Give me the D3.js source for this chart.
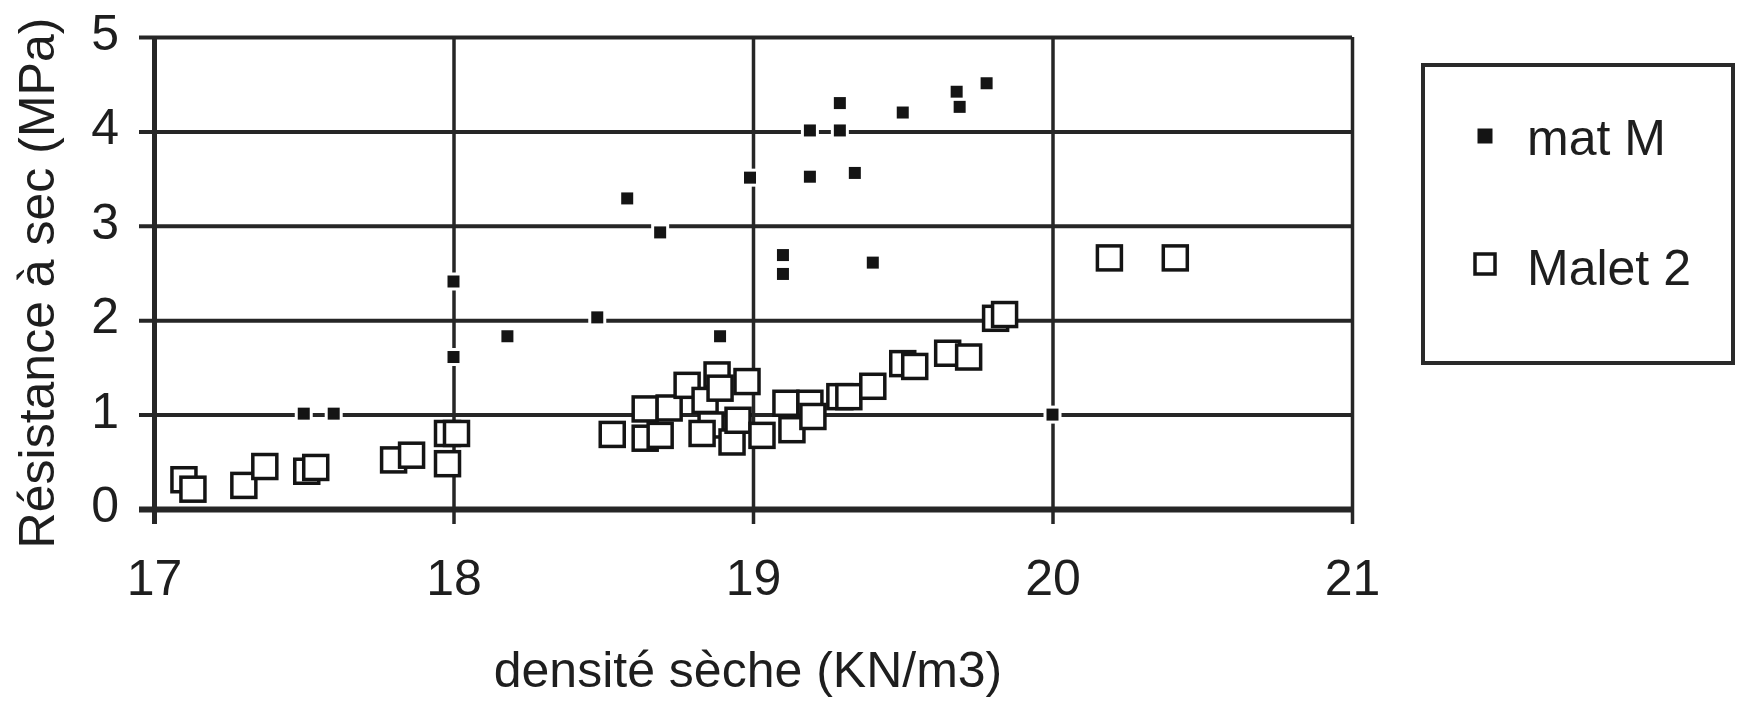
<!DOCTYPE html>
<html>
<head>
<meta charset="utf-8">
<script src="https://cdn.jsdelivr.net/npm/d3@7"></script>
<style>
body{margin:0;background:#fff;}
text{font-family:"Liberation Sans",Arial,sans-serif;fill:#1e1e1e;}
</style>
</head>
<body>
<div id="chart"></div>
<script>

//data
const matM_x = [17.50,17.60,18.00,18.00,18.18,18.48,18.58,18.69,18.89,18.99,19.10,19.10,19.19,19.19,19.29,19.29,19.34,19.40,19.50,19.68,19.69,19.78,20.00];
const matM_y = [1.01,1.01,2.41,1.61,1.83,2.03,3.29,2.93,1.83,3.51,2.69,2.49,4.01,3.52,4.30,4.01,3.56,2.61,4.20,4.42,4.26,4.51,1.00];

const malet_x = [17.10,17.13,17.30,17.37,17.51,17.54,17.80,17.86,17.98,18.01,17.98,
	18.53,18.64,18.64,18.69,18.72,18.78,18.84,18.88,18.89,18.86,18.83,18.93,18.95,18.98,
	19.03,19.11,19.13,19.19,19.20,19.29,19.32,19.40,19.50,19.54,19.65,19.72,19.81,19.84,20.19,20.41];
const malet_y = [0.31,0.21,0.25,0.45,0.40,0.44,0.52,0.57,0.80,0.80,0.48,
	0.79,1.06,0.75,0.78,1.07,1.31,1.15,1.42,1.28,0.89,0.80,0.71,0.94,1.35,
	0.78,1.12,0.84,1.12,0.98,1.19,1.19,1.30,1.54,1.51,1.65,1.61,2.02,2.06,2.66,2.66];

const xTicks = [17,18,19,20,21];
const yTicks = [0,1,2,3,4,5];
const seriesNames = ["mat M","Malet 2"];
const xTitle = "densité sèche (KN/m3)";
const yTitle = "Résistance à sec (MPa)";


function graph(){

	//sizing
	let width = 1742, height = 704;
	let margin = {top:37, right:390, bottom:195, left:154};
	let plotW = width - margin.left - margin.right;
	let plotH = height - margin.top - margin.bottom;
	let tick = 15;

	let svg = d3.select("#chart")
		.append("svg")
		.attr("width", width)
		.attr("height", height);

	svg.append("rect")
		.attr("width", width).attr("height", height)
		.attr("fill", "#fff");

	const xScale = d3.scaleLinear()
		.domain([17,21])
		.range([margin.left, margin.left + plotW]);

	const yScale = d3.scaleLinear()
		.domain([0,5])
		.range([margin.top + plotH, margin.top]);

	//horizontal grid + y labels
	const yAxis = d3.axisLeft(yScale)
		.tickValues(yTicks)
		.tickSize(-(plotW + tick))
		.tickPadding(20)
		.tickFormat(d3.format("d"));

	let gy = svg.append("g")
		.attr("class", "axis y_axis")
		.attr("transform", `translate(${margin.left - tick},0)`)
		.call(yAxis);
	gy.select(".domain").remove();
	gy.selectAll("line")
		.attr("stroke", "#262626")
		.attr("stroke-width", (d)=>{ return d === 0 ? 6 : 4; });
	gy.selectAll("text")
		.attr("dy", "0.25em")
		.style("font-size", "50px");

	//vertical grid + x labels
	const xAxis = d3.axisBottom(xScale)
		.tickValues(xTicks)
		.tickSize(-(plotH + tick))
		.tickPadding(35)
		.tickFormat(d3.format("d"));

	let gx = svg.append("g")
		.attr("class", "axis x_axis")
		.attr("transform", `translate(0,${margin.top + plotH + tick})`)
		.call(xAxis);
	gx.select(".domain").remove();
	gx.selectAll("line")
		.attr("stroke", "#262626")
		.attr("stroke-width", (d)=>{ return d === 17 ? 5 : 3.5; });
	gx.selectAll("text")
		.style("font-size", "50px");

	//axis titles
	svg.append("text")
		.attr("x", 748)
		.attr("y", 687)
		.attr("text-anchor", "middle")
		.style("font-size", "50px")
		.text(xTitle);

	svg.append("text")
		.attr("transform", "translate(54,283) rotate(-90)")
		.attr("text-anchor", "middle")
		.style("font-size", "50px")
		.text(yTitle);

	//series mat M
	let matM = matM_x.map((d,i)=>{ return {x:d, y:matM_y[i]}; });
	let malet = malet_x.map((d,i)=>{ return {x:d, y:malet_y[i]}; });

	let sFill = 15, sOpen = 24;

	svg.append("g")
		.selectAll("rect")
		.data(matM)
		.enter().append("rect")
		.attr("x", (d)=>{ return xScale(d.x) - sFill/2; })
		.attr("y", (d)=>{ return yScale(d.y) - sFill/2; })
		.attr("width", sFill)
		.attr("height", sFill)
		.attr("fill", "#141414")
		.attr("stroke", "#fff")
		.attr("stroke-width", 3);

	//series Malet 2
	svg.append("g")
		.selectAll("rect")
		.data(malet)
		.enter().append("rect")
		.attr("x", (d)=>{ return xScale(d.x) - sOpen/2; })
		.attr("y", (d)=>{ return yScale(d.y) - sOpen/2; })
		.attr("width", sOpen)
		.attr("height", sOpen)
		.attr("fill", "#fff")
		.attr("stroke", "#141414")
		.attr("stroke-width", 3.5);

	//legend
	let leg = svg.append("g").attr("transform", "translate(1423,65)");

	leg.append("rect")
		.attr("width", 310)
		.attr("height", 298)
		.attr("fill", "#fff")
		.attr("stroke", "#2a2a2a")
		.attr("stroke-width", 4);

	leg.append("rect")
		.attr("x", 62 - sFill/2).attr("y", 71 - sFill/2)
		.attr("width", sFill).attr("height", sFill)
		.attr("fill", "#141414");

	leg.append("rect")
		.attr("x", 62 - 10).attr("y", 199 - 10)
		.attr("width", 20).attr("height", 20)
		.attr("fill", "#fff")
		.attr("stroke", "#141414")
		.attr("stroke-width", 3.5);

	leg.selectAll(".lab")
		.data(seriesNames)
		.enter().append("text")
		.attr("class", "lab")
		.attr("x", 104)
		.attr("y", (d,i)=>{ return i === 0 ? 90 : 220; })
		.style("font-size", "50px")
		.text((d)=>{ return d; });

} //graph

graph();
</script>
</body>
</html>
